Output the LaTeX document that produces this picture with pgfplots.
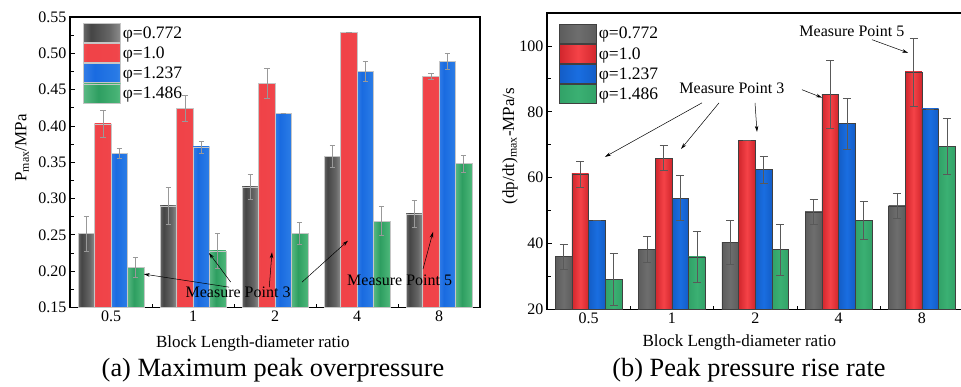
\documentclass[border=0pt]{standalone}
\usepackage{pgfplots}
\pgfplotsset{compat=1.18}
\usepackage{pgfplotstable}
\usepackage{fontspec}
\setmainfont{Liberation Serif}
\usetikzlibrary{arrows.meta}

% left panel (glossy) shadings
\pgfdeclarehorizontalshading{greyL}{100bp}{rgb(0bp)=(0.74,0.74,0.74); rgb(35bp)=(0.27,0.27,0.27); rgb(60bp)=(0.40,0.40,0.40); rgb(100bp)=(0.80,0.80,0.80)}
\pgfdeclarehorizontalshading{redL}{100bp}{rgb(0bp)=(0.96,0.48,0.48); rgb(30bp)=(0.94,0.26,0.28); rgb(70bp)=(0.94,0.27,0.29); rgb(100bp)=(0.97,0.52,0.52)}
\pgfdeclarehorizontalshading{blueL}{100bp}{rgb(0bp)=(0.36,0.60,0.94); rgb(40bp)=(0.10,0.42,0.88); rgb(70bp)=(0.16,0.48,0.90); rgb(100bp)=(0.50,0.72,0.96)}
\pgfdeclarehorizontalshading{greenL}{100bp}{rgb(0bp)=(0.56,0.85,0.68); rgb(45bp)=(0.18,0.62,0.38); rgb(70bp)=(0.28,0.70,0.46); rgb(100bp)=(0.58,0.87,0.71)}
% right panel shadings
\pgfdeclarehorizontalshading{greyR}{100bp}{rgb(0bp)=(0.30,0.30,0.30); rgb(50bp)=(0.43,0.43,0.43); rgb(100bp)=(0.30,0.30,0.30)}
\pgfdeclarehorizontalshading{redR}{100bp}{rgb(0bp)=(0.68,0.04,0.07); rgb(50bp)=(0.96,0.26,0.28); rgb(100bp)=(0.68,0.04,0.07)}
\pgfdeclarehorizontalshading{blueR}{100bp}{rgb(0bp)=(0.05,0.30,0.68); rgb(50bp)=(0.10,0.43,0.88); rgb(100bp)=(0.05,0.30,0.68)}
\pgfdeclarehorizontalshading{greenR}{100bp}{rgb(0bp)=(0.16,0.58,0.36); rgb(50bp)=(0.23,0.69,0.45); rgb(100bp)=(0.16,0.58,0.36)}

\pgfplotstableread{
x g ge r re b be n ne
0 0.252 0.024 0.403 0.019 0.362 0.007 0.205 0.014
1 0.290 0.026 0.424 0.018 0.371 0.008 0.228 0.024
2 0.316 0.017 0.459 0.021 0.417 0 0.252 0.015
3 0.358 0.015 0.529 0 0.475 0.014 0.269 0.020
4 0.279 0.018 0.468 0.004 0.489 0.011 0.348 0.012
}\Pdata

\pgfplotstableread{
x g ge r re b be n ne
0 36.0 3.8 61.1 4.0 47.1 0 29.1 7.9
1 38.2 3.9 65.9 3.8 53.8 6.9 35.9 7.8
2 40.4 6.7 71.4 0 62.4 4.0 38.1 7.8
3 49.6 3.9 85.3 10.4 76.4 7.7 47.1 5.7
4 51.4 3.9 92.1 10.3 80.9 0 69.6 8.5
}\Rdata

\newcommand{\tfont}{\fontsize{16}{18}\selectfont}

\pgfplotsset{
  common/.style={
    scale only axis, ybar, bar width=0.2,
    xmin=-0.5, xmax=4.5,
    xtick={0,1,2,3,4}, xticklabels={0.5,1,2,4,8},
    minor xtick={0.5,1.5,2.5,3.5},
    xtick pos=left, ytick pos=left,
    tick align=inside,
    major tick length=5pt, minor tick length=3.5pt,
    major x tick style={draw=none},
    minor y tick num=1,
    axis line style={line width=1.1pt},
    every tick/.style={black, line width=0.8pt},
    tick label style={font=\tfont},
    /pgf/number format/assume math mode=true,
    label style={font=\fontsize{17}{19}\selectfont},
    legend cell align=left,
    legend image code/.code={\path[##1] (0pt,-9.5pt) rectangle (37pt,9.5pt);},
    legend style={draw=none, fill=none, font=\fontsize{17.5}{19}\selectfont, anchor=north west,
      row sep=0.6pt, inner sep=0pt, nodes={inner sep=2pt}},
  },
  errL/.style={error bars/.cd, y dir=both, y explicit,
    error bar style={gray!80, line width=0.6pt},
    error mark options={rotate=90, mark size=2.7pt, gray!80, line width=0.6pt}},
  errR/.style={error bars/.cd, y dir=both, y explicit,
    error bar style={black!65, line width=0.6pt},
    error mark options={rotate=90, mark size=4pt, black!65, line width=0.6pt}},
  gL/.style={shading=greyL, draw=gray!45, line width=0.5pt},
  rL/.style={shading=redL, draw=gray!45, line width=0.5pt},
  bL/.style={shading=blueL, draw=gray!45, line width=0.5pt},
  nL/.style={shading=greenL, draw=gray!45, line width=0.5pt},
  gR/.style={shading=greyR, draw=black!75, line width=0.5pt},
  rR/.style={shading=redR, draw=black!75, line width=0.5pt},
  bR/.style={shading=blueR, draw=black!75, line width=0.5pt},
  nR/.style={shading=greenR, draw=black!75, line width=0.5pt},
}

\begin{document}
\begin{tikzpicture}
\path[use as bounding box] (0pt,0pt) rectangle (961pt,387pt);

% ---------------- left panel ----------------
\begin{axis}[common,
  at={(70pt,79.5pt)}, anchor=south west,
  width=410pt, height=290.5pt,
  ymin=0.15, ymax=0.55,
  ytick={0.15,0.20,0.25,0.30,0.35,0.40,0.45,0.50,0.55},
  yticklabel style={/pgf/number format/.cd, fixed, fixed zerofill, precision=2},
  xlabel={Block Length-diameter ratio},
  ylabel={P\textsubscript{max}/MPa},
  xlabel style={at={(axis description cs:0.446,-0.136)}, anchor=base},
  ylabel style={at={(axis description cs:-0.117,0.549)}, anchor=center},
  legend style={at={(axis description cs:0.032,0.979)}},
]
\addlegendimage{gL}\addlegendentry{φ=0.772}
\addlegendimage{rL}\addlegendentry{φ=1.0}
\addlegendimage{bL}\addlegendentry{φ=1.237}
\addlegendimage{nL}\addlegendentry{φ=1.486}
\pgfplotsinvokeforeach{0,1,2,3,4}{
\addplot[forget plot, bar shift=-0.3, gL, restrict x to domain=#1:#1, errL] table[x=x, y=g, y error=ge] {\Pdata};
\addplot[forget plot, bar shift=-0.1, rL, restrict x to domain=#1:#1, errL] table[x=x, y=r, y error=re] {\Pdata};
\addplot[forget plot, bar shift=0.1, bL, restrict x to domain=#1:#1, errL] table[x=x, y=b, y error=be] {\Pdata};
\addplot[forget plot, bar shift=0.3, nL, restrict x to domain=#1:#1, errL] table[x=x, y=n, y error=ne] {\Pdata};
}

\node[font=\tfont] at (axis cs:1.55,0.1715) {Measure Point 3};
\node[font=\tfont] at (axis cs:3.52,0.188) {Measure Point 5};
\begin{scope}[-{Stealth[length=6pt,width=3.5pt]}, line width=0.5pt]
\draw (axis cs:1.44,0.178) -- (axis cs:0.40,0.196);
\draw (axis cs:1.46,0.185) -- (axis cs:1.195,0.225);
\draw (axis cs:1.93,0.178) -- (axis cs:1.963,0.226);
\draw (axis cs:2.33,0.185) -- (axis cs:2.89,0.242);
\draw (axis cs:3.805,0.203) -- (axis cs:3.927,0.254);
\end{scope}
\end{axis}

% ---------------- right panel ----------------
\begin{axis}[common,
  at={(547pt,77.7pt)}, anchor=south west,
  width=416.5pt, height=296.3pt,
  ymin=20, ymax=110,
  ytick={20,40,60,80,100},
  xlabel={Block Length-diameter ratio},
  ylabel={(dp/dt)\textsubscript{max}-MPa/s},
  xlabel style={at={(axis description cs:0.462,-0.127)}, anchor=base},
  ylabel style={at={(axis description cs:-0.089,0.551)}, anchor=center},
  legend style={at={(axis description cs:0.029,0.963)}},
]
\addlegendimage{gR}\addlegendentry{φ=0.772}
\addlegendimage{rR}\addlegendentry{φ=1.0}
\addlegendimage{bR}\addlegendentry{φ=1.237}
\addlegendimage{nR}\addlegendentry{φ=1.486}
\pgfplotsinvokeforeach{0,1,2,3,4}{
\addplot[forget plot, bar shift=-0.3, gR, restrict x to domain=#1:#1, errR] table[x=x, y=g, y error=ge] {\Rdata};
\addplot[forget plot, bar shift=-0.1, rR, restrict x to domain=#1:#1, errR] table[x=x, y=r, y error=re] {\Rdata};
\addplot[forget plot, bar shift=0.1, bR, restrict x to domain=#1:#1, errR] table[x=x, y=b, y error=be] {\Rdata};
\addplot[forget plot, bar shift=0.3, nR, restrict x to domain=#1:#1, errR] table[x=x, y=n, y error=ne] {\Rdata};
}

\node[font=\tfont] at (axis cs:1.72,87.0) {Measure Point 3};
\node[font=\tfont] at (axis cs:3.16,104.3) {Measure Point 5};
\begin{scope}[-{Stealth[length=6pt,width=3.5pt]}, line width=0.5pt]
\draw (axis cs:1.36,82.7) -- (axis cs:0.196,66.3);
\draw (axis cs:1.565,82.7) -- (axis cs:1.109,68.7);
\draw (axis cs:1.997,82.7) -- (axis cs:2.021,73.9);
\draw (axis cs:2.561,86.7) -- (axis cs:2.801,84.3);
\draw (axis cs:3.401,101.9) -- (axis cs:3.834,97.9);
\end{scope}
\end{axis}

\node[font=\fontsize{26.3}{29}\selectfont, anchor=base] at (273pt,10pt) {(a) Maximum peak overpressure};
\node[font=\fontsize{26.3}{29}\selectfont, anchor=base] at (749pt,10pt) {(b) Peak pressure rise rate};
\end{tikzpicture}
\end{document}
